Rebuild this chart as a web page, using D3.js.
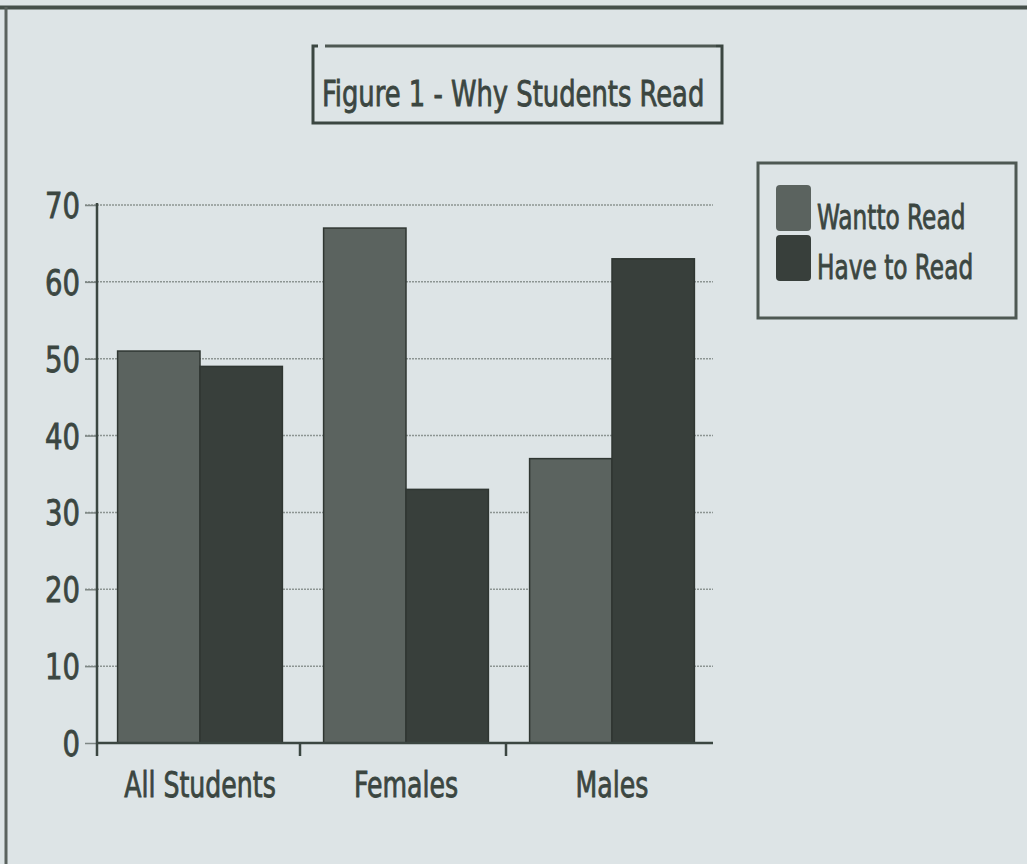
<!DOCTYPE html>
<html>
<head>
<meta charset="utf-8">
<script src="https://cdn.jsdelivr.net/npm/d3@7"></script>
<style>
  body { margin: 0; background: #dde4e6; }
  svg { display: block; }
  text { font-family: "DejaVu Sans Condensed", "DejaVu Sans", sans-serif; fill: #3b4641; stroke: #3b4641; stroke-width: 0.8; }
  .grid line { stroke: #8d9593; stroke-width: 1.5; stroke-dasharray: 2,1; }
</style>
</head>
<body>
<svg width="1027" height="864"></svg>
<script>
const categories = ["All Students", "Females", "Males"]
const seriesNames = ["Want to Read", "Have to Read"]
const legendLabels = ["Wantto Read", "Have to Read"]
const wantToRead = [51, 67, 37]
const haveToRead = [49, 33, 63]
const yTicks = [0, 10, 20, 30, 40, 50, 60, 70]
const colors = ["#5b635f", "#383f3b"]

const svg = d3.select("svg")

// narrow text: place with a transform and squeeze horizontally
const narrow = (x, y, k) => `translate(${x},${y}) scale(${k},1)`

// page frame
svg.append("rect")
  .attr("x", 0).attr("y", 0)
  .attr("width", 1027).attr("height", 864)
  .attr("fill", "#dde4e6")
svg.append("line")
  .attr("x1", 0).attr("x2", 1027).attr("y1", 7.5).attr("y2", 7.5)
  .attr("stroke", "#46504b").attr("stroke-width", 4)
svg.append("line")
  .attr("x1", 6).attr("x2", 6).attr("y1", 7).attr("y2", 864)
  .attr("stroke", "#5a625e").attr("stroke-width", 3)

const x0 = d3.scaleBand()
  .domain(categories)
  .range([97, 715])
  .paddingInner(0.2)
  .paddingOuter(0.1)

const x1 = d3.scaleBand()
  .domain(seriesNames)
  .range([0, x0.bandwidth()])

const y = d3.scaleLinear()
  .domain([0, 70])
  .range([743, 205])

// gridlines
svg.append("g")
  .attr("class", "grid")
  .selectAll("line")
  .data(yTicks.filter(d => d > 0))
  .enter().append("line")
  .attr("x1", 85).attr("x2", 713)
  .attr("y1", d => y(d)).attr("y2", d => y(d))

const rows = categories.map((c, i) => ({ cat: c, values: [wantToRead[i], haveToRead[i]] }))

const groups = svg.selectAll("g.cat")
  .data(rows)
  .enter().append("g")
  .attr("class", "cat")
  .attr("transform", d => `translate(${x0(d.cat)},0)`)

groups.selectAll("rect")
  .data(d => d.values.map((v, j) => ({ name: seriesNames[j], value: v, j: j })))
  .enter().append("rect")
  .attr("x", d => x1(d.name))
  .attr("y", d => y(d.value))
  .attr("width", x1.bandwidth())
  .attr("height", d => y(0) - y(d.value))
  .attr("fill", d => colors[d.j])
  .attr("stroke", "#2f3632")
  .attr("stroke-width", 1.5)

// y axis
const yAxis = d3.axisLeft(y)
  .tickValues(yTicks)
  .tickSize(12)
  .tickFormat("")

const yg = svg.append("g")
  .attr("transform", "translate(97,0)")
  .call(yAxis)
yg.select(".domain").remove()
yg.selectAll(".tick line").attr("stroke", "#7e8784").attr("stroke-width", 1.5)

svg.append("g")
  .selectAll("text")
  .data(yTicks)
  .enter().append("text")
  .attr("transform", d => narrow(80, y(d) + 13, 0.85))
  .attr("text-anchor", "end")
  .style("font-size", "36px")
  .text(d => d)

svg.append("line")
  .attr("x1", 97).attr("x2", 97).attr("y1", 203).attr("y2", 756)
  .attr("stroke", "#3b4641").attr("stroke-width", 2.5)

// x axis
const xBoundary = d3.scaleLinear().domain([0, 3]).range([97, 715])
svg.append("line")
  .attr("x1", 97).attr("x2", 713).attr("y1", 743).attr("y2", 743)
  .attr("stroke", "#3b4641").attr("stroke-width", 2.5)
svg.append("g")
  .selectAll("line")
  .data([1, 2])
  .enter().append("line")
  .attr("x1", d => xBoundary(d) - 3).attr("x2", d => xBoundary(d) - 3)
  .attr("y1", 743).attr("y2", 756)
  .attr("stroke", "#3b4641").attr("stroke-width", 2.5)

svg.append("g")
  .selectAll("text")
  .data(categories)
  .enter().append("text")
  .attr("transform", d => narrow(x0(d) + x0.bandwidth() / 2, 797, 0.8))
  .attr("text-anchor", "middle")
  .style("font-size", "35px")
  .text(d => d)

// title box
const title = svg.append("g")
title.append("path")
  .attr("d", "M318,46 L313,46 L313,123 L722,123 L722,46 L716,46")
  .attr("fill", "none").attr("stroke", "#3b4641").attr("stroke-width", 3)
title.append("line")
  .attr("x1", 325).attr("x2", 716).attr("y1", 46).attr("y2", 46)
  .attr("stroke", "#4e5853").attr("stroke-width", 3)
title.append("text")
  .attr("transform", narrow(322, 106, 0.82))
  .style("font-size", "35px")
  .text("Figure 1 -  Why Students Read")

// legend
const legend = svg.append("g")
legend.append("rect")
  .attr("x", 758).attr("y", 163)
  .attr("width", 258).attr("height", 155)
  .attr("fill", "none").attr("stroke", "#4e5853").attr("stroke-width", 3)

const items = legend.selectAll("g.item")
  .data(seriesNames)
  .enter().append("g")
  .attr("class", "item")
  .attr("transform", (d, i) => `translate(0, ${i * 50})`)

items.append("rect")
  .attr("x", 776).attr("y", 185)
  .attr("width", 35).attr("height", 46)
  .attr("rx", 4)
  .attr("fill", (d, i) => colors[i])
items.append("text")
  .attr("transform", narrow(817, 229, 0.76))
  .style("font-size", "34px")
  .text((d, i) => legendLabels[i])
</script>
</body>
</html>
